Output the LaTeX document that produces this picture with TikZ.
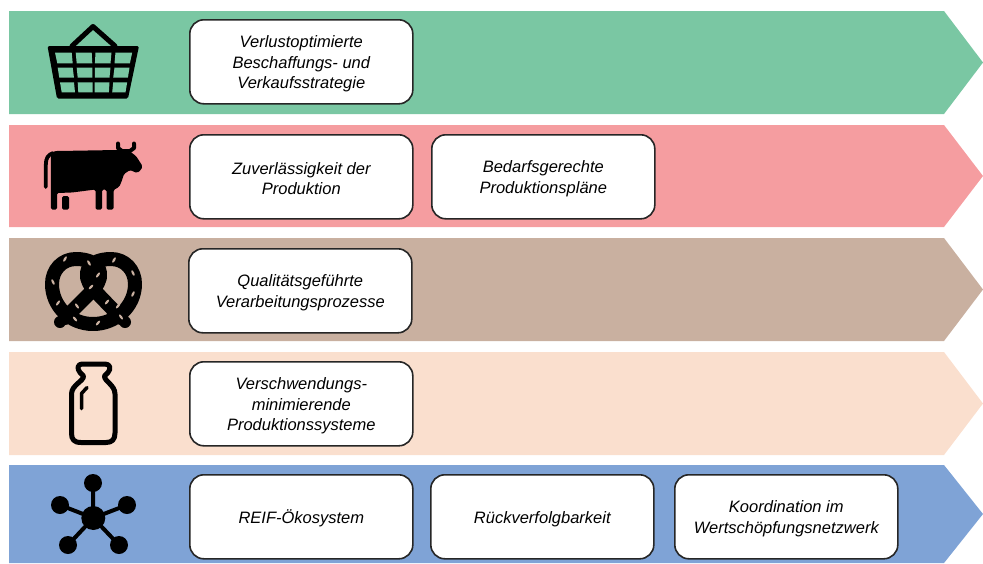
\documentclass[tikz,border=0pt]{standalone}
\usepackage{fontspec}
\setmainfont{Liberation Sans}
\definecolor{cgreen}{HTML}{7AC7A3}
\definecolor{cred}{HTML}{F59DA0}
\definecolor{cbrown}{HTML}{C9B0A0}
\definecolor{cpeach}{HTML}{FADFCE}
\definecolor{cblue}{HTML}{7FA3D6}
\newcommand{\tp}{\rule{0pt}{16pt}}
\tikzset{
 lab/.style={draw=black!85,line width=1.6pt,fill=white,rounded corners=14pt,minimum width=223pt,minimum height=84pt,inner sep=0pt,align=center,font=\fontsize{16.5}{20.5}\selectfont\itshape,anchor=north west},
 ico/.style={line width=5pt,black,line cap=round,line join=round},
}
\begin{document}
\begin{tikzpicture}[x=1pt,y=-1pt]
\useasboundingbox (0,0) rectangle (983,563);
% bands
\fill[cgreen] (9,11) -- (944,11) -- (983,62.5) -- (944,114) -- (9,114) -- cycle;
\fill[cred] (9,125) -- (944,125) -- (983,176) -- (944,227) -- (9,227) -- cycle;
\fill[cbrown] (9,238) -- (944,238) -- (983,289.5) -- (944,341) -- (9,341) -- cycle;
\fill[cpeach] (9,352) -- (944,352) -- (983,403.5) -- (944,455) -- (9,455) -- cycle;
\fill[cblue] (9,465) -- (944,465) -- (983,514) -- (944,563) -- (9,563) -- cycle;
% boxes
\node[lab] (a1) at (189,19) {\tp Verlustoptimierte\\Beschaffungs- und\\Verkaufsstrategie};
\node[lab] (b1) at (189,134) {\tp Zuverlässigkeit der\\Produktion};
\node[lab] (b2) at (431,134) {\tp Bedarfsgerechte\\Produktionspläne};
\node[lab] (c1) at (188,248) {\tp Qualitätsgeführte\\Verarbeitungsprozesse};
\node[lab] (d1) at (189,361) {\tp Verschwendungs-\\minimierende\\Produktionssysteme};
\node[lab] (e1) at (189,474) {\tp REIF-Ökosystem};
\node[lab] (e2) at (430,474) {\tp Rückverfolgbarkeit};
\node[lab] (e3) at (674,474) {\tp Koordination im\\Wertschöpfungsnetzwerk};
% basket
\draw[black,line width=5pt,line cap=round,line join=round] (72,46) -- (93,26.5) -- (115,46);
\fill[black,rounded corners=1.5pt] (47.5,46) -- (139,46) -- (128,98.5) -- (57,98.5) -- cycle;
\foreach \s/\f in {0/1,187.2/-1}{
\begin{scope}[shift={(\s,0)},xscale=\f]
\fill[cgreen] (55,52.5) -- (71.7,52.5) -- (72.7,63.3) -- (57.3,63.3) -- cycle;
\fill[cgreen] (57.7,67.7) -- (72.7,67.7) -- (74,77.7) -- (59.3,77.7) -- cycle;
\fill[cgreen] (60,82.3) -- (74,82.3) -- (75,92.3) -- (61.7,92.3) -- cycle;
\fill[cgreen] (75.7,52.5) -- (91.7,52.5) -- (92.3,63.3) -- (76.7,63.3) -- cycle;
\fill[cgreen] (76.7,67.7) -- (92.3,67.7) -- (92.3,77.7) -- (77.7,77.7) -- cycle;
\fill[cgreen] (77.7,82.3) -- (92.7,82.3) -- (92.7,92.3) -- (78.3,92.3) -- cycle;
\end{scope}}
% cow
\draw[black,line width=3.8pt,line cap=round] (45.8,187) -- (45.8,165) .. controls (45.8,158) and (48,155) .. (53,153);
\fill[black,rounded corners=1.5pt] (51,209.5) -- (50.8,160) .. controls (51,154) and (53,151) .. (58,151)
 -- (117,150) -- (128,150) -- (136,156) -- (142.5,166) -- (141,170) -- (137,173) -- (130,170) -- (124,174)
 -- (121,183) -- (119,187) -- (113.5,190) -- (113.5,209.5) -- (106.5,209.5) -- (106.5,189.5) -- (102,189.5)
 -- (102,209.5) -- (95.5,209.5) -- (95.5,189.5) -- (72,192.5) -- (57,193) -- (57,209.5) -- cycle;
\fill[black,rounded corners=1.5pt] (62,196) -- (69,196) -- (69,209.5) -- (62,209.5) -- cycle;
\draw[black,line width=4pt,line cap=round,line join=round] (118,143.5) -- (118,148) -- (122,151) -- (130,151) -- (134,148) -- (134,143.5);
% pretzel
\draw[line width=14pt,black,line cap=round,line join=round]
 (121,318) -- (97,293)
 .. controls (90,286) and (86,280) .. (87,273)
 .. controls (88,264) and (98,259) .. (111,259)
 .. controls (125,259) and (135,270) .. (135,284)
 .. controls (135,306) and (116,324) .. (93,324)
 .. controls (70,324) and (52,306) .. (52,284)
 .. controls (52,270) and (62,259) .. (76,259)
 .. controls (89,259) and (99,264) .. (100,273)
 .. controls (101,280) and (97,286) .. (90,293)
 -- (65,318);
\fill[black] (60,322) circle (6pt) (125,322) circle (6pt);
\foreach \p/\r/\a in {65/259/-30,89/263/30,114/260/-30,133/273/25,53/282/25,133/294/-25,98/275/-35,91/287/-45,58/303/-35,77/306/35,107/302/-40,118/306/-40,75/319/40,98/323/-40,121/317/35}
 \fill[cbrown,rotate around={\a:(\p,\r)}] (\p,\r) ellipse (1.2pt and 3pt);
% bottle
\begin{scope}[ico]
\draw (83.5,376) -- (80,372.5) .. controls (76.5,368.5) and (78,364) .. (82,364) -- (105,364)
 .. controls (110,364) and (111.5,368.5) .. (108,372.5) -- (104.5,376)
 .. controls (104,381) and (115,385) .. (115,394) -- (115,433)
 .. controls (115,439.5) and (112,442.5) .. (106,442.5) -- (81,442.5)
 .. controls (74,442.5) and (71.5,439.5) .. (71.5,433) -- (71.5,394)
 .. controls (71.5,385) and (84,381) .. (83.5,376) -- cycle;
\draw[line width=3.5pt] (81.5,408.5) -- (81.5,393.5) -- (87,387.5);
\end{scope}
% network
\foreach \x/\y in {93/483,60/505,127/505,68/545,119/545}{
 \draw[black,line width=4pt] (93.3,518) -- (\x,\y);
 \fill[black] (\x,\y) circle (9pt);
}
\fill[black] (93.3,518) circle (12pt);
\end{tikzpicture}
\end{document}
